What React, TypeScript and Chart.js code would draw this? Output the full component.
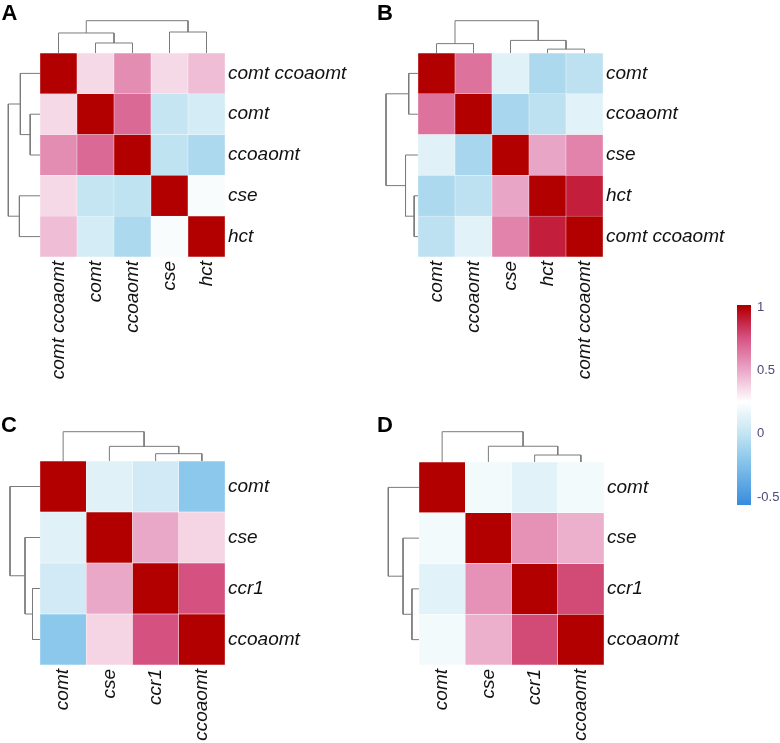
import React, { useEffect, useRef } from "react";
import { Chart, registerables } from "chart.js";

Chart.register(...registerables);

// ---------- DATA ----------
// Panel A
const A_LABELS = ["comt ccoaomt", "comt", "ccoaomt", "cse", "hct"];
const A_VALUES = [
  [1.0, 0.36, 0.58, 0.36, 0.44],
  [0.36, 1.0, 0.69, 0.01, 0.07],
  [0.58, 0.69, 1.0, -0.01, -0.08],
  [0.36, 0.01, -0.01, 1.0, 0.22],
  [0.44, 0.07, -0.08, 0.22, 1.0],
];
// merges: [clusterA, clusterB, height] (leaves 0..n-1 in display order, new clusters n, n+1, ...)
const A_MERGES = [
  [1, 2, 0.31],
  [0, 5, 0.62],
  [3, 4, 0.65],
  [6, 7, 1.0],
];

// Panel B
const B_LABELS = ["comt", "ccoaomt", "cse", "hct", "comt ccoaomt"];
const B_VALUES = [
  [1.0, 0.66, 0.12, -0.08, -0.02],
  [0.66, 1.0, -0.1, -0.02, 0.125],
  [0.12, -0.1, 1.0, 0.51, 0.61],
  [-0.08, -0.02, 0.51, 1.0, 0.9],
  [-0.02, 0.125, 0.61, 0.9, 1.0],
];
const B_MERGES = [
  [3, 4, 0.12],
  [0, 1, 0.29],
  [2, 5, 0.39],
  [6, 7, 1.0],
];

// Panel C
const C_LABELS = ["comt", "cse", "ccr1", "ccoaomt"];
const C_VALUES = [
  [1.0, 0.12, 0.06, -0.2],
  [0.12, 1.0, 0.5, 0.375],
  [0.06, 0.5, 1.0, 0.76],
  [-0.2, 0.375, 0.76, 1.0],
];
const C_MERGES = [
  [2, 3, 0.25],
  [1, 4, 0.5],
  [0, 5, 1.0],
];

// Panel D
const D_LABELS = ["comt", "cse", "ccr1", "ccoaomt"];
const D_VALUES = [
  [1.0, 0.2, 0.125, 0.2],
  [0.2, 1.0, 0.566, 0.477],
  [0.125, 0.566, 1.0, 0.78],
  [0.2, 0.477, 0.78, 1.0],
];
const D_MERGES = [
  [2, 3, 0.23],
  [1, 4, 0.52],
  [0, 5, 1.0],
];

// Colour scale
const SCALE_TICKS = [1, 0.5, 0, -0.5];
const SCALE_MIN = -0.563;
const SCALE_MAX = 1.016;

// ---------- STYLE ----------
type RGB = [number, number, number];
const COLOR_STOPS: [number, RGB][] = [
  [-0.563, [56, 140, 222]],
  [-0.2, [140, 200, 235]],
  [0.0, [195, 228, 242]],
  [0.25, [255, 255, 255]],
  [0.5, [234, 168, 200]],
  [0.75, [214, 85, 133]],
  [0.9, [195, 30, 60]],
  [1.0, [178, 0, 0]],
  [1.016, [178, 0, 0]],
];

const FONT = "'Liberation Sans', Arial, Helvetica, sans-serif";
const LABEL_FONT = { family: FONT, size: 19, style: "italic" as const, weight: "normal" as const };
const Y_AXIS_W = 150;
const X_AXIS_H = 130;
const DENDRO_COLOR = "#7a7a7a";

function rgb(c: number[]) {
  return `rgb(${Math.round(c[0])},${Math.round(c[1])},${Math.round(c[2])})`;
}

function valueToColor(v: number): string {
  const s = COLOR_STOPS;
  if (v <= s[0][0]) return rgb(s[0][1]);
  for (let i = 1; i < s.length; i++) {
    if (v <= s[i][0]) {
      const [v0, c0] = s[i - 1];
      const [v1, c1] = s[i];
      const t = (v - v0) / (v1 - v0);
      return rgb([0, 1, 2].map((k) => c0[k] + (c1[k] - c0[k]) * t));
    }
  }
  return rgb(s[s.length - 1][1]);
}

function dendroSegments(n: number, merges: number[][]) {
  const pos: number[] = [];
  const hts: number[] = [];
  for (let i = 0; i < n; i++) {
    pos.push(i);
    hts.push(0);
  }
  const segs: number[][][] = [];
  merges.forEach(([a, b, h]) => {
    segs.push([
      [pos[a], hts[a]],
      [pos[a], h],
      [pos[b], h],
      [pos[b], hts[b]],
    ]);
    pos.push((pos[a] + pos[b]) / 2);
    hts.push(h);
  });
  return segs;
}

const noPad = (s: any) => {
  s.paddingTop = 0;
  s.paddingBottom = 0;
  s.paddingLeft = 0;
  s.paddingRight = 0;
};

type Layout = { left: number; top: number; right: number; bottom: number; depthL: number; depthT: number };

function HeatmapPanel({ labels, values, merges, layout }: { labels: string[]; values: number[][]; merges: number[][]; layout: Layout }) {
  const ref = useRef<HTMLCanvasElement>(null);
  const n = labels.length;
  const caL = Math.floor(layout.left - layout.depthL - 2);
  const caT = Math.floor(layout.top - layout.depthT - 2);
  const canvasLeft = caL - 1;
  const canvasTop = caT - 1;
  const width = layout.right - canvasLeft + Y_AXIS_W;
  const height = layout.bottom - canvasTop + X_AXIS_H;

  useEffect(() => {
    const ppuX = (layout.right - layout.left) / n;
    const ppuY = (layout.bottom - layout.top) / n;
    const xMin = -0.5 - (layout.left - caL) / ppuX;
    const yMax = n + (layout.top - caT) / ppuY;
    const Dx = layout.depthL / ppuX;
    const Dy = layout.depthT / ppuY;

    const cells: any[] = [];
    const colors: string[] = [];
    for (let r = 0; r < n; r++) {
      for (let c = 0; c < n; c++) {
        cells.push({ x: c, y: [n - r - 1, n - r] });
        colors.push(valueToColor(values[r][c]));
      }
    }
    const segs = dendroSegments(n, merges);
    const lineStyle = {
      type: "line" as const,
      borderColor: DENDRO_COLOR,
      borderWidth: 1,
      pointRadius: 0,
      pointHoverRadius: 0,
      fill: false,
      tension: 0,
      clip: false as any,
    };
    const topSets = segs.map((seg) => ({
      ...lineStyle,
      data: seg.map(([p, h]) => ({ x: p, y: n + h * Dy })),
    }));
    const leftSets = segs.map((seg) => ({
      ...lineStyle,
      data: seg.map(([p, h]) => ({ x: -0.5 - h * Dx, y: n - p - 0.5 })),
    }));

    const chart = new Chart(ref.current as HTMLCanvasElement, {
      type: "bar",
      data: {
        datasets: [
          {
            type: "bar",
            data: cells,
            backgroundColor: colors,
            borderColor: "rgba(255,255,255,0.55)",
            borderWidth: 0.5,
            borderSkipped: false,
            barPercentage: 1,
            categoryPercentage: 1,
            grouped: false,
          } as any,
          ...(topSets as any[]),
          ...(leftSets as any[]),
        ],
      },
      options: {
        responsive: false,
        animation: false,
        devicePixelRatio: 1,
        events: [],
        layout: { padding: { left: 1, top: 1, right: 0, bottom: 0 } },
        plugins: { legend: { display: false }, tooltip: { enabled: false }, title: { display: false } },
        scales: {
          x: {
            type: "linear",
            min: xMin,
            max: n - 0.5,
            offset: false,
            grid: { display: false, drawTicks: false },
            border: { display: false },
            afterBuildTicks: (s: any) => {
              s.ticks = labels.map((_, i) => ({ value: i }));
            },
            afterFit: (s: any) => {
              s.height = X_AXIS_H;
              noPad(s);
            },
            ticks: {
              autoSkip: false,
              minRotation: 90,
              maxRotation: 90,
              padding: 4,
              color: "#111",
              font: LABEL_FONT,
              callback: (_v: any, i: number) => labels[i],
            },
          },
          y: {
            type: "linear",
            position: "right",
            min: 0,
            max: yMax,
            grid: { display: false, drawTicks: false },
            border: { display: false },
            afterBuildTicks: (s: any) => {
              s.ticks = labels.map((_, i) => ({ value: i + 0.5 }));
            },
            afterFit: (s: any) => {
              s.width = Y_AXIS_W;
              noPad(s);
            },
            ticks: {
              autoSkip: false,
              padding: 3,
              color: "#111",
              font: LABEL_FONT,
              callback: (_v: any, i: number) => labels[n - 1 - i],
            },
          },
        },
      } as any,
    });
    return () => chart.destroy();
  }, []);

  return (
    <canvas
      ref={ref}
      width={width}
      height={height}
      style={{ position: "absolute", left: canvasLeft, top: canvasTop, width, height }}
    />
  );
}

function ColorBar() {
  const ref = useRef<HTMLCanvasElement>(null);
  const left = 730;
  const top = 295;
  const width = 50;
  const height = 220;
  useEffect(() => {
    const chart = new Chart(ref.current as HTMLCanvasElement, {
      type: "bar",
      data: {
        labels: [""],
        datasets: [
          {
            data: [[SCALE_MIN, SCALE_MAX]],
            backgroundColor: (ctx: any) => {
              const c = ctx.chart;
              if (!c.chartArea) return "#ccc";
              const ys = c.scales.y;
              const g = c.ctx.createLinearGradient(0, ys.getPixelForValue(SCALE_MIN), 0, ys.getPixelForValue(SCALE_MAX));
              COLOR_STOPS.forEach(([v, col]) => {
                const t = Math.min(1, Math.max(0, (v - SCALE_MIN) / (SCALE_MAX - SCALE_MIN)));
                g.addColorStop(t, rgb(col));
              });
              return g;
            },
            borderWidth: 0,
            barPercentage: 1,
            categoryPercentage: 1,
          } as any,
        ],
      },
      options: {
        responsive: false,
        animation: false,
        devicePixelRatio: 1,
        events: [],
        layout: { padding: { left: 7, top: 10, right: 0, bottom: 10 } },
        plugins: { legend: { display: false }, tooltip: { enabled: false } },
        scales: {
          x: { display: false },
          y: {
            type: "linear",
            position: "right",
            min: SCALE_MIN,
            max: SCALE_MAX,
            grid: { display: false, drawTicks: false },
            border: { display: false },
            afterBuildTicks: (s: any) => {
              s.ticks = SCALE_TICKS.map((v) => ({ value: v }));
            },
            afterFit: (s: any) => {
              s.width = 29;
              noPad(s);
            },
            ticks: {
              padding: 6,
              color: "#4a4a78",
              font: { family: FONT, size: 13 },
              callback: (v: any) => String(v),
            },
          },
        },
      } as any,
    });
    return () => chart.destroy();
  }, []);
  return (
    <canvas
      ref={ref}
      width={width}
      height={height}
      style={{ position: "absolute", left, top, width, height }}
    />
  );
}

const letterStyle = (left: number, top: number): React.CSSProperties => ({
  position: "absolute",
  left,
  top,
  fontFamily: FONT,
  fontWeight: "bold",
  fontSize: 22,
  lineHeight: "22px",
  color: "#000",
});

export default function App() {
  return (
    <div style={{ position: "absolute", left: 0, top: 0, width: 780, height: 743, background: "#fff", overflow: "hidden" }}>
      <HeatmapPanel labels={A_LABELS} values={A_VALUES} merges={A_MERGES}
        layout={{ left: 40, top: 53, right: 225, bottom: 257, depthL: 31.7, depthT: 32.3 }} />
      <HeatmapPanel labels={B_LABELS} values={B_VALUES} merges={B_MERGES}
        layout={{ left: 418, top: 53, right: 603, bottom: 257, depthL: 32, depthT: 32.3 }} />
      <HeatmapPanel labels={C_LABELS} values={C_VALUES} merges={C_MERGES}
        layout={{ left: 40, top: 461, right: 225, bottom: 665, depthL: 30, depthT: 29.3 }} />
      <HeatmapPanel labels={D_LABELS} values={D_VALUES} merges={D_MERGES}
        layout={{ left: 419, top: 462, right: 604, bottom: 665, depthL: 30.7, depthT: 30.3 }} />
      <ColorBar />
      <div style={letterStyle(1.5, 2)}>A</div>
      <div style={letterStyle(377, 2)}>B</div>
      <div style={letterStyle(1, 414)}>C</div>
      <div style={letterStyle(377, 414)}>D</div>
    </div>
  );
}
